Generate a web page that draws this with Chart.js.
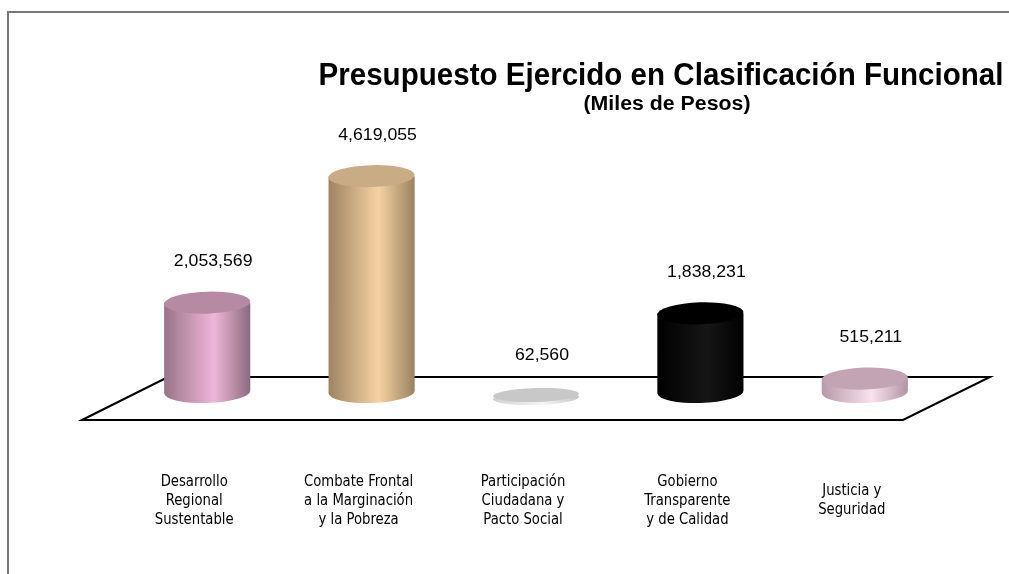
<!DOCTYPE html>
<html>
<head>
<meta charset="utf-8">
<script src="https://cdn.jsdelivr.net/npm/chart.js@4.4.1/dist/chart.umd.min.js"></script>
<style>
  body { margin: 0; background: #fff; overflow: hidden; }
  canvas { display: block; }
</style>
</head>
<body>
<canvas id="chart" width="1009" height="574"></canvas>
<script>
// data
const categories = [
    ['Desarrollo', 'Regional', 'Sustentable'],
    ['Combate Frontal', 'a la Marginación', 'y la Pobreza'],
    ['Participación', 'Ciudadana y', 'Pacto Social'],
    ['Gobierno', 'Transparente', 'y de Calidad'],
    ['Justicia y', 'Seguridad']
];
const values = [2053569, 4619055, 62560, 1838231, 515211];
const titleText = 'Presupuesto Ejercido en Clasificación Funcional';
const subtitleText = '(Miles de Pesos)';

// cylinder shading, one per bar
const palette = [
    { side: ['#9a7488', '#efb6d8', '#8c6a7e'], top: '#b68aa2' },
    { side: ['#9e8462', '#f6d2a2', '#9a8260'], top: '#c9ac84' },
    { side: ['#d0d0d0', '#f6f6f6', '#c4c4c4'], top: '#c8c8c8' },
    { side: ['#000000', '#161616', '#000000'], top: '#000000' },
    { side: ['#b69aa9', '#fae2ee', '#b294a4'], top: '#c2a4b4' }
];

const fmt = v => v.toLocaleString('en-US');

function drawText(ctx, text, cx, cy, font, sx) {
    ctx.save();
    ctx.font = font;
    ctx.textAlign = 'center';
    ctx.textBaseline = 'middle';
    ctx.translate(cx, cy);
    ctx.scale(sx, 1);
    ctx.fillText(text, 0, 0);
    ctx.restore();
}

function sideGradient(ctx, x, rx, stops) {
    const g = ctx.createLinearGradient(x - rx, 0, x + rx, 0);
    g.addColorStop(0, stops[0]);
    g.addColorStop(0.58, stops[1]);
    g.addColorStop(1, stops[2]);
    return g;
}

const cylinderPlugin = {
    id: 'cylinders',
    beforeDraw(chart) {
        const ctx = chart.ctx;
        ctx.save();
        ctx.fillStyle = '#fff';
        ctx.fillRect(0, 0, chart.width, chart.height);
        // outer frame (left and top only)
        ctx.strokeStyle = '#777';
        ctx.lineWidth = 2;
        ctx.beginPath();
        ctx.moveTo(8, chart.height);
        ctx.lineTo(8, 12);
        ctx.lineTo(chart.width, 12);
        ctx.stroke();
        ctx.restore();
    },
    beforeDatasetsDraw(chart) {
        // floor
        const ctx = chart.ctx;
        const area = chart.chartArea;
        const y0 = chart.scales.y.getPixelForValue(0);
        const backY = y0 - 27, frontY = y0 + 16;
        const fl = area.left - 43, fr = area.right - 44;
        ctx.save();
        ctx.strokeStyle = '#000';
        ctx.lineWidth = 2;
        ctx.fillStyle = '#fff';
        ctx.beginPath();
        ctx.moveTo(fl, frontY);
        ctx.lineTo(fl + 86, backY);
        ctx.lineTo(fr + 87, backY);
        ctx.lineTo(fr, frontY);
        ctx.closePath();
        ctx.fill();
        ctx.stroke();
        ctx.restore();
    },
    afterDatasetsDraw(chart) {
        const ctx = chart.ctx;
        const meta = chart.getDatasetMeta(0);
        const rot = -0.03;
        ctx.save();
        meta.data.forEach((el, i) => {
            const p = palette[i];
            const x = el.x;
            const rx = el.width / 2;
            const yb = el.base - 12;
            let yt = el.y;
            let ry = 11;
            if (yt > yb - 4) {
                // very small value: flat disc
                ry = 7;
                const c = yb + 4;
                ctx.fillStyle = sideGradient(ctx, x, rx, p.side);
                ctx.beginPath();
                ctx.ellipse(x, c + 2, rx, ry, rot, 0, Math.PI * 2);
                ctx.fill();
                ctx.fillStyle = p.top;
                ctx.beginPath();
                ctx.ellipse(x, c - 1, rx, ry, rot, 0, Math.PI * 2);
                ctx.fill();
                yt = c;
            } else {
                ctx.fillStyle = sideGradient(ctx, x, rx, p.side);
                ctx.beginPath();
                ctx.moveTo(x + rx, yt);
                ctx.lineTo(x + rx, yb);
                ctx.ellipse(x, yb, rx, ry, rot, 0, Math.PI, false);
                ctx.lineTo(x - rx, yt);
                ctx.closePath();
                ctx.fill();
                ctx.fillStyle = p.top;
                ctx.beginPath();
                ctx.ellipse(x, yt, rx, ry, rot, 0, Math.PI * 2);
                ctx.fill();
            }
            // value label
            ctx.fillStyle = '#000';
            drawText(ctx, fmt(values[i]), x + 6, yt - 41, '17px "Liberation Sans", Arial, sans-serif', 1.04);

            // category label
            const lines = categories[i];
            const lh = 19;
            const top = 501 - (lines.length - 1) * lh / 2;
            lines.forEach((ln, k) => {
                drawText(ctx, ln, x - 13, top + k * lh, '15px "DejaVu Sans Condensed", "DejaVu Sans", sans-serif', 0.98);
            });
        });

        // titles
        ctx.fillStyle = '#000';
        ctx.font = 'bold 31px "Liberation Sans", Arial, sans-serif';
        let w = ctx.measureText(titleText).width;
        drawText(ctx, titleText, 661, 76, ctx.font, 685 / w);
        ctx.font = 'bold 20px "Liberation Sans", Arial, sans-serif';
        w = ctx.measureText(subtitleText).width;
        drawText(ctx, subtitleText, 667, 104, ctx.font, 167 / w);
        ctx.restore();
    }
};

new Chart(document.getElementById('chart'), {
    type: 'bar',
    data: {
        labels: categories,
        datasets: [{
            data: values,
            backgroundColor: 'rgba(0,0,0,0)',
            borderWidth: 0,
            barPercentage: 0.524,
            categoryPercentage: 1
        }]
    },
    options: {
        responsive: false,
        animation: false,
        layout: {
            padding: { left: 125, right: 62, top: 108, bottom: 170 }
        },
        scales: {
            x: { display: false },
            y: { display: false, min: 0, max: 6000000 }
        },
        plugins: {
            legend: { display: false },
            tooltip: { enabled: false }
        }
    },
    plugins: [cylinderPlugin]
});
</script>
</body>
</html>
